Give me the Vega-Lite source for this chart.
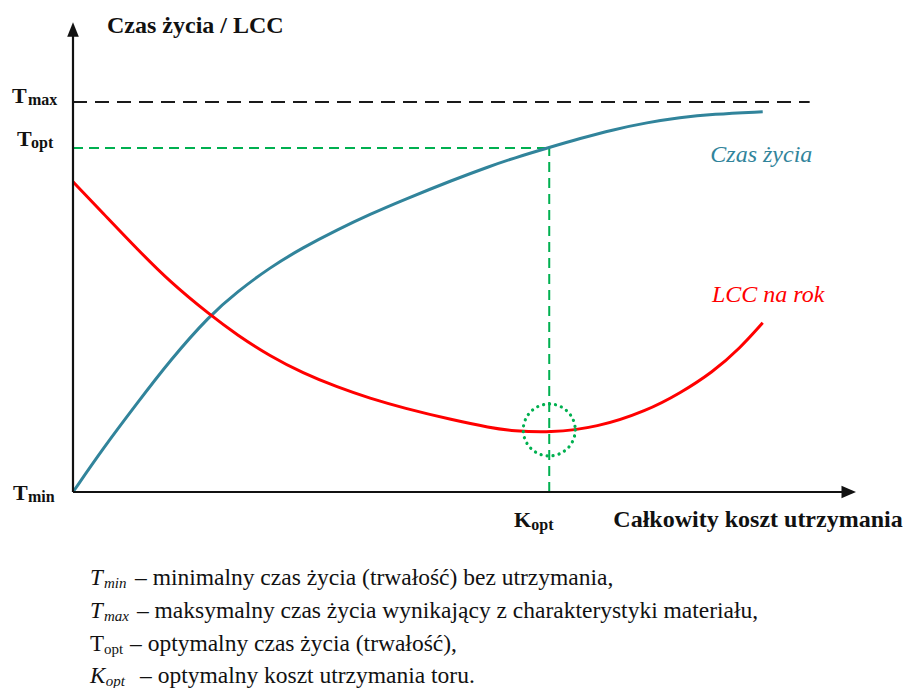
{
  "$schema": "https://vega.github.io/schema/vega-lite/v6.json",
  "width": 782,
  "height": 470,
  "autosize": {"type": "none"},
  "padding": {"left": 73, "top": 22, "right": 50, "bottom": 196},
  "background": "white",
  "config": {"view": {"stroke": null}, "font": "Liberation Serif", "text": {"font": "Liberation Serif"}},
  "datasets": {
    "curves": [
      {"series": "Czas życia", "x": 0, "y": 0},
      {"series": "Czas życia", "x": 3.8, "y": 9.2},
      {"series": "Czas życia", "x": 8.2, "y": 18.9},
      {"series": "Czas życia", "x": 12.4, "y": 28.0},
      {"series": "Czas życia", "x": 17.5, "y": 37.6},
      {"series": "Czas życia", "x": 21.0, "y": 42.6},
      {"series": "Czas życia", "x": 25.2, "y": 47.8},
      {"series": "Czas życia", "x": 29.4, "y": 52.0},
      {"series": "Czas życia", "x": 33.8, "y": 55.8},
      {"series": "Czas życia", "x": 38.0, "y": 59.1},
      {"series": "Czas życia", "x": 42.2, "y": 62.1},
      {"series": "Czas życia", "x": 48.6, "y": 66.4},
      {"series": "Czas życia", "x": 53.3, "y": 69.3},
      {"series": "Czas życia", "x": 56.3, "y": 71.0},
      {"series": "Czas życia", "x": 60.9, "y": 73.3},
      {"series": "Czas życia", "x": 64.8, "y": 75.2},
      {"series": "Czas życia", "x": 69.1, "y": 77.1},
      {"series": "Czas życia", "x": 73.4, "y": 78.6},
      {"series": "Czas życia", "x": 77.6, "y": 79.7},
      {"series": "Czas życia", "x": 81.8, "y": 80.4},
      {"series": "Czas życia", "x": 88.2, "y": 80.9},
      {"series": "LCC na rok", "x": 0, "y": 66.0},
      {"series": "LCC na rok", "x": 3.8, "y": 59.4},
      {"series": "LCC na rok", "x": 8.2, "y": 51.7},
      {"series": "LCC na rok", "x": 12.4, "y": 44.7},
      {"series": "LCC na rok", "x": 17.5, "y": 37.7},
      {"series": "LCC na rok", "x": 21.0, "y": 33.4},
      {"series": "LCC na rok", "x": 25.2, "y": 28.9},
      {"series": "LCC na rok", "x": 29.4, "y": 25.3},
      {"series": "LCC na rok", "x": 33.8, "y": 22.3},
      {"series": "LCC na rok", "x": 38.0, "y": 19.9},
      {"series": "LCC na rok", "x": 42.2, "y": 17.9},
      {"series": "LCC na rok", "x": 48.6, "y": 15.3},
      {"series": "LCC na rok", "x": 53.3, "y": 13.7},
      {"series": "LCC na rok", "x": 56.3, "y": 13.0},
      {"series": "LCC na rok", "x": 60.9, "y": 12.6},
      {"series": "LCC na rok", "x": 67.0, "y": 13.7},
      {"series": "LCC na rok", "x": 73.4, "y": 17.3},
      {"series": "LCC na rok", "x": 77.6, "y": 21.0},
      {"series": "LCC na rok", "x": 81.8, "y": 25.5},
      {"series": "LCC na rok", "x": 85.3, "y": 30.6},
      {"series": "LCC na rok", "x": 88.2, "y": 36.0}
    ],
    "axes": [
      {"x": 0, "x2": 0, "y": 0, "y2": 97},
      {"x": 0, "x2": 98.5, "y": 0, "y2": 0}
    ],
    "arrows": [
      {"dir": "up", "x": 0, "y": 98.4},
      {"dir": "right", "x": 99.2, "y": 0}
    ],
    "tmaxLine": [
      {"x": 0, "x2": 94.2, "y": 83.0, "y2": 83.0}
    ],
    "optLines": [
      {"x": 0, "x2": 60.9, "y": 73.2, "y2": 73.2},
      {"x": 60.9, "x2": 60.9, "y": 0, "y2": 73.2}
    ],
    "optPoint": [
      {"x": 60.9, "y": 13.2}
    ],
    "titles": [
      {"x": 4.35, "y": 97.7, "text": "Czas życia / LCC"},
      {"x": 69.1, "y": -7.45, "text": "Całkowity koszt utrzymania"}
    ],
    "bigLetters": [
      {"x": -7.8, "y": 82.8, "text": "T"},
      {"x": -7.16, "y": 73.6, "text": "T"},
      {"x": -7.66, "y": -1.7, "text": "T"},
      {"x": 56.4, "y": -7.45, "text": "K"}
    ],
    "subs": [
      {"x": -5.75, "y": 82.3, "text": "max"},
      {"x": -5.37, "y": 73.2, "text": "opt"},
      {"x": -5.75, "y": -2.1, "text": "min"},
      {"x": 58.6, "y": -8.1, "text": "opt"}
    ],
    "seriesLabels": [
      {"series": "Czas życia", "x": 81.5, "y": 70.2},
      {"series": "LCC na rok", "x": 81.7, "y": 40.4}
    ],
    "legendItalicSym": [
      {"x": 2.17, "y": -19.8, "text": "T"},
      {"x": 2.17, "y": -26.8, "text": "T"},
      {"x": 2.17, "y": -40.6, "text": "K"}
    ],
    "legendRegularSym": [
      {"x": 2.17, "y": -33.8, "text": "T"}
    ],
    "legendItalicSub": [
      {"x": 3.96, "y": -20.4, "text": "min"},
      {"x": 3.96, "y": -27.4, "text": "max"},
      {"x": 4.2, "y": -41.2, "text": "opt"}
    ],
    "legendRegularSub": [
      {"x": 3.96, "y": -34.4, "text": "opt"}
    ],
    "legendText": [
      {"x": 7.93, "y": -19.8, "text": "– minimalny czas  życia (trwałość) bez utrzymania,"},
      {"x": 8.18, "y": -26.8, "text": "– maksymalny czas życia wynikający z charakterystyki materiału,"},
      {"x": 7.29, "y": -33.8, "text": "– optymalny czas  życia (trwałość),"},
      {"x": 8.57, "y": -40.6, "text": "– optymalny koszt utrzymania  toru."}
    ]
  },
  "layer": [
    {
      "data": {"name": "tmaxLine"},
      "mark": {"type": "rule", "color": "#1a1a1a", "strokeWidth": 2, "strokeDash": [14, 8]},
      "encoding": {
        "x": {"field": "x", "type": "quantitative", "scale": {"domain": [0, 100], "nice": false, "zero": false}, "axis": null},
        "x2": {"field": "x2"},
        "y": {"field": "y", "type": "quantitative", "scale": {"domain": [0, 100], "nice": false, "zero": false}, "axis": null},
        "y2": {"field": "y2"}
      }
    },
    {
      "data": {"name": "optLines"},
      "mark": {"type": "rule", "color": "#00b050", "strokeWidth": 2, "strokeDash": [10, 6]},
      "encoding": {
        "x": {"field": "x", "type": "quantitative", "scale": {"domain": [0, 100], "nice": false, "zero": false}, "axis": null},
        "x2": {"field": "x2"},
        "y": {"field": "y", "type": "quantitative", "scale": {"domain": [0, 100], "nice": false, "zero": false}, "axis": null},
        "y2": {"field": "y2"}
      }
    },
    {
      "data": {"name": "curves"},
      "mark": {"type": "line", "interpolate": "basis", "strokeWidth": 3},
      "encoding": {
        "x": {"field": "x", "type": "quantitative", "scale": {"domain": [0, 100], "nice": false, "zero": false}, "axis": null},
        "y": {"field": "y", "type": "quantitative", "scale": {"domain": [0, 100], "nice": false, "zero": false}, "axis": null},
        "color": {"field": "series", "type": "nominal", "scale": {"domain": ["Czas życia", "LCC na rok"], "range": ["#31849b", "#ff0000"]}, "legend": null},
        "order": {"field": "x", "type": "quantitative"}
      }
    },
    {
      "data": {"name": "optPoint"},
      "mark": {"type": "point", "shape": "circle", "size": 2704, "filled": false, "color": "#00b050", "strokeWidth": 3.2, "strokeDash": [0.1, 6], "strokeCap": "round", "opacity": 1},
      "encoding": {
        "x": {"field": "x", "type": "quantitative", "scale": {"domain": [0, 100], "nice": false, "zero": false}, "axis": null},
        "y": {"field": "y", "type": "quantitative", "scale": {"domain": [0, 100], "nice": false, "zero": false}, "axis": null}
      }
    },
    {
      "data": {"name": "axes"},
      "mark": {"type": "rule", "color": "#111111", "strokeWidth": 2.2},
      "encoding": {
        "x": {"field": "x", "type": "quantitative", "scale": {"domain": [0, 100], "nice": false, "zero": false}, "axis": null},
        "x2": {"field": "x2"},
        "y": {"field": "y", "type": "quantitative", "scale": {"domain": [0, 100], "nice": false, "zero": false}, "axis": null},
        "y2": {"field": "y2"}
      }
    },
    {
      "data": {"name": "arrows"},
      "mark": {"type": "point", "filled": true, "color": "#111111", "size": 210, "opacity": 1},
      "encoding": {
        "x": {"field": "x", "type": "quantitative", "scale": {"domain": [0, 100], "nice": false, "zero": false}, "axis": null},
        "y": {"field": "y", "type": "quantitative", "scale": {"domain": [0, 100], "nice": false, "zero": false}, "axis": null},
        "shape": {"field": "dir", "type": "nominal", "scale": {"domain": ["up", "right"], "range": ["M0,-1L-0.8,1L0.8,1Z", "M1,0L-1,-0.85L-1,0.85Z"]}, "legend": null}
      }
    },
    {
      "data": {"name": "titles"},
      "mark": {"type": "text", "font": "Liberation Serif", "align": "left", "baseline": "alphabetic", "fontSize": 24, "fontWeight": "bold", "color": "#111111"},
      "encoding": {
        "x": {"field": "x", "type": "quantitative", "scale": {"domain": [0, 100], "nice": false, "zero": false}, "axis": null},
        "y": {"field": "y", "type": "quantitative", "scale": {"domain": [0, 100], "nice": false, "zero": false}, "axis": null},
        "text": {"field": "text"}
      }
    },
    {
      "data": {"name": "bigLetters"},
      "mark": {"type": "text", "font": "Liberation Serif", "align": "left", "baseline": "alphabetic", "fontSize": 22, "fontWeight": "bold", "color": "#111111"},
      "encoding": {
        "x": {"field": "x", "type": "quantitative", "scale": {"domain": [0, 100], "nice": false, "zero": false}, "axis": null},
        "y": {"field": "y", "type": "quantitative", "scale": {"domain": [0, 100], "nice": false, "zero": false}, "axis": null},
        "text": {"field": "text"}
      }
    },
    {
      "data": {"name": "subs"},
      "mark": {"type": "text", "font": "Liberation Serif", "align": "left", "baseline": "alphabetic", "fontSize": 16, "fontWeight": "bold", "color": "#111111"},
      "encoding": {
        "x": {"field": "x", "type": "quantitative", "scale": {"domain": [0, 100], "nice": false, "zero": false}, "axis": null},
        "y": {"field": "y", "type": "quantitative", "scale": {"domain": [0, 100], "nice": false, "zero": false}, "axis": null},
        "text": {"field": "text"}
      }
    },
    {
      "data": {"name": "seriesLabels"},
      "mark": {"type": "text", "font": "Liberation Serif", "align": "left", "baseline": "alphabetic", "fontSize": 24, "fontStyle": "italic"},
      "encoding": {
        "x": {"field": "x", "type": "quantitative", "scale": {"domain": [0, 100], "nice": false, "zero": false}, "axis": null},
        "y": {"field": "y", "type": "quantitative", "scale": {"domain": [0, 100], "nice": false, "zero": false}, "axis": null},
        "text": {"field": "series"},
        "color": {"field": "series", "type": "nominal", "scale": {"domain": ["Czas życia", "LCC na rok"], "range": ["#31849b", "#ff0000"]}, "legend": null}
      }
    },
    {
      "data": {"name": "legendItalicSym"},
      "mark": {"type": "text", "font": "Liberation Serif", "align": "left", "baseline": "alphabetic", "fontSize": 23, "fontStyle": "italic", "color": "#111111"},
      "encoding": {
        "x": {"field": "x", "type": "quantitative", "scale": {"domain": [0, 100], "nice": false, "zero": false}, "axis": null},
        "y": {"field": "y", "type": "quantitative", "scale": {"domain": [0, 100], "nice": false, "zero": false}, "axis": null},
        "text": {"field": "text"}
      }
    },
    {
      "data": {"name": "legendRegularSym"},
      "mark": {"type": "text", "font": "Liberation Serif", "align": "left", "baseline": "alphabetic", "fontSize": 23, "color": "#111111"},
      "encoding": {
        "x": {"field": "x", "type": "quantitative", "scale": {"domain": [0, 100], "nice": false, "zero": false}, "axis": null},
        "y": {"field": "y", "type": "quantitative", "scale": {"domain": [0, 100], "nice": false, "zero": false}, "axis": null},
        "text": {"field": "text"}
      }
    },
    {
      "data": {"name": "legendItalicSub"},
      "mark": {"type": "text", "font": "Liberation Serif", "align": "left", "baseline": "alphabetic", "fontSize": 15, "fontStyle": "italic", "color": "#111111"},
      "encoding": {
        "x": {"field": "x", "type": "quantitative", "scale": {"domain": [0, 100], "nice": false, "zero": false}, "axis": null},
        "y": {"field": "y", "type": "quantitative", "scale": {"domain": [0, 100], "nice": false, "zero": false}, "axis": null},
        "text": {"field": "text"}
      }
    },
    {
      "data": {"name": "legendRegularSub"},
      "mark": {"type": "text", "font": "Liberation Serif", "align": "left", "baseline": "alphabetic", "fontSize": 15, "color": "#111111"},
      "encoding": {
        "x": {"field": "x", "type": "quantitative", "scale": {"domain": [0, 100], "nice": false, "zero": false}, "axis": null},
        "y": {"field": "y", "type": "quantitative", "scale": {"domain": [0, 100], "nice": false, "zero": false}, "axis": null},
        "text": {"field": "text"}
      }
    },
    {
      "data": {"name": "legendText"},
      "mark": {"type": "text", "font": "Liberation Serif", "align": "left", "baseline": "alphabetic", "fontSize": 23.5, "color": "#111111"},
      "encoding": {
        "x": {"field": "x", "type": "quantitative", "scale": {"domain": [0, 100], "nice": false, "zero": false}, "axis": null},
        "y": {"field": "y", "type": "quantitative", "scale": {"domain": [0, 100], "nice": false, "zero": false}, "axis": null},
        "text": {"field": "text"}
      }
    }
  ]
}
